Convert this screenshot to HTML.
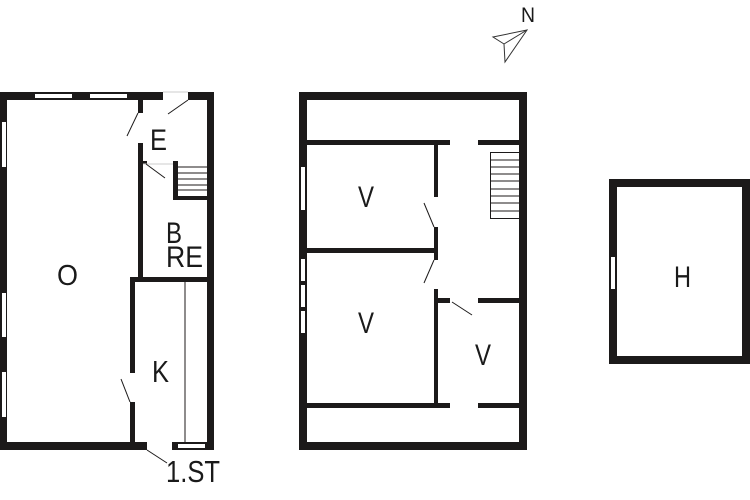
<!DOCTYPE html>
<html><head><meta charset="utf-8"><style>
html,body{margin:0;padding:0;background:#fff;}
svg{display:block;}
text{font-family:"Liberation Sans",sans-serif;fill:#1a1a1a;}
</style></head><body>
<svg width="750" height="500" viewBox="0 0 750 500" xmlns="http://www.w3.org/2000/svg">
<rect width="750" height="500" fill="#fff"/>
<g fill="#1c1a1a">
<rect x="0" y="92" width="214" height="8"/>
<rect x="0" y="92" width="7" height="358"/>
<rect x="207" y="92" width="7" height="358"/>
<rect x="0" y="442" width="214" height="8"/>
<rect x="138" y="92" width="5" height="185"/>
<rect x="130" y="277" width="84" height="5"/>
<rect x="130" y="277" width="5" height="170"/>
<rect x="173" y="161" width="5" height="39"/>
<rect x="173" y="196" width="34" height="4"/>
<rect x="143" y="161" width="4" height="3"/>
</g>
<g fill="#fff">
<rect x="35" y="94" width="37" height="4"/>
<rect x="90" y="94" width="37" height="4"/>
<rect x="163" y="92" width="25" height="8"/>
<rect x="138" y="113" width="5" height="30"/>
<rect x="130" y="373" width="5" height="29"/>
<rect x="147" y="442" width="25" height="8"/>
<rect x="178" y="444" width="27" height="4"/>
<rect x="2" y="122" width="4" height="45"/>
<rect x="2" y="293" width="4" height="44"/>
<rect x="2" y="372" width="4" height="45"/>
</g>
<g stroke="#1c1a1a" stroke-width="1" fill="none">
<line x1="163" y1="92" x2="188" y2="92" stroke="#ccc"/>
<line x1="188" y1="100" x2="168" y2="114"/>
<line x1="138" y1="113" x2="127" y2="136"/>
<line x1="143" y1="164" x2="173" y2="164" stroke="#ccc"/>
<line x1="146" y1="164" x2="165" y2="178"/>
<line x1="178" y1="167" x2="207" y2="167"/>
<line x1="178" y1="173" x2="207" y2="173"/>
<line x1="178" y1="179" x2="207" y2="179"/>
<line x1="178" y1="185" x2="207" y2="185"/>
<line x1="178" y1="190" x2="207" y2="190"/>
<line x1="185" y1="282" x2="185" y2="442"/>
<line x1="130" y1="402" x2="121" y2="379"/>
<line x1="147" y1="450" x2="167" y2="463"/>
</g>
<text x="150" y="150" font-size="30" textLength="17" lengthAdjust="spacingAndGlyphs">E</text>
<text x="166" y="243" font-size="30" textLength="16" lengthAdjust="spacingAndGlyphs">B</text>
<text x="166" y="267" font-size="30" textLength="37" lengthAdjust="spacingAndGlyphs">RE</text>
<text x="57" y="285" font-size="29" textLength="21" lengthAdjust="spacingAndGlyphs">O</text>
<text x="152" y="382" font-size="31" textLength="17" lengthAdjust="spacingAndGlyphs">K</text>
<text x="166" y="482" font-size="31" textLength="54" lengthAdjust="spacingAndGlyphs">1.ST</text>

<g fill="#1c1a1a">
<rect x="299" y="92" width="228" height="8"/>
<rect x="299" y="92" width="8" height="358"/>
<rect x="519" y="92" width="8" height="358"/>
<rect x="299" y="442" width="228" height="8"/>
<rect x="299" y="140" width="228" height="5"/>
<rect x="434" y="140" width="4" height="268"/>
<rect x="299" y="248" width="139" height="5"/>
<rect x="434" y="298" width="93" height="5"/>
<rect x="299" y="403" width="228" height="5"/>
</g>
<g fill="#fff">
<rect x="450" y="140" width="28" height="5"/>
<rect x="450" y="298" width="28" height="5"/>
<rect x="450" y="403" width="28" height="5"/>
<rect x="434" y="197" width="4" height="30"/>
<rect x="434" y="260" width="4" height="29"/>
<rect x="301" y="167" width="4" height="43"/>
<rect x="301" y="259" width="4" height="22"/>
<rect x="301" y="285" width="4" height="22"/>
<rect x="301" y="311" width="4" height="22"/>
<rect x="490" y="152" width="29" height="66"/>
</g>
<g stroke="#1c1a1a" stroke-width="1" fill="none">
<rect x="490.5" y="152.5" width="29" height="66"/>
<line x1="490" y1="160" x2="519" y2="160"/>
<line x1="490" y1="167" x2="519" y2="167"/>
<line x1="490" y1="174" x2="519" y2="174"/>
<line x1="490" y1="181" x2="519" y2="181"/>
<line x1="490" y1="189" x2="519" y2="189"/>
<line x1="490" y1="196" x2="519" y2="196"/>
<line x1="490" y1="203" x2="519" y2="203"/>
<line x1="490" y1="211" x2="519" y2="211"/>
<line x1="434" y1="227" x2="424" y2="203"/>
<line x1="434" y1="260" x2="424" y2="283"/>
<line x1="452" y1="302" x2="472" y2="315"/>
</g>
<text x="358" y="207" font-size="30" textLength="16" lengthAdjust="spacingAndGlyphs">V</text>
<text x="358" y="333" font-size="30" textLength="16" lengthAdjust="spacingAndGlyphs">V</text>
<text x="475" y="365" font-size="30" textLength="16" lengthAdjust="spacingAndGlyphs">V</text>

<g fill="#1c1a1a">
<rect x="609" y="179" width="140" height="8"/>
<rect x="609" y="179" width="8" height="185"/>
<rect x="742" y="179" width="8" height="185"/>
<rect x="609" y="356" width="140" height="8"/>
</g>
<rect x="611" y="257" width="4" height="32" fill="#fff"/>
<text x="674" y="287" font-size="30" textLength="17" lengthAdjust="spacingAndGlyphs">H</text>

<polygon points="493,37 527,30 505,62 504,44" fill="none" stroke="#333" stroke-width="1"/>
<line x1="504" y1="44" x2="527" y2="30" stroke="#333" stroke-width="1"/>
<text x="521" y="22" font-size="21" textLength="14" lengthAdjust="spacingAndGlyphs">N</text>
</svg>
</body></html>
